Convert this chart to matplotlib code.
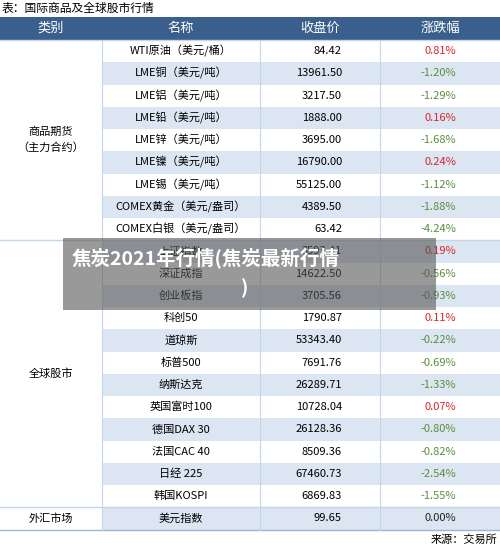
import matplotlib.pyplot as plt
from matplotlib.patches import Rectangle

plt.rcParams['font.family'] = ['Noto Sans CJK SC', 'DejaVu Sans']

headers = ["类别", "名称", "收盘价", "涨跌幅"]
groups = [("商品期货\n（主力合约）", 9), ("全球股市", 12), ("外汇市场", 1)]
names = ["WTI原油（美元/桶）", "LME铜（美元/吨）", "LME铝（美元/吨）", "LME铅（美元/吨）",
         "LME锌（美元/吨）", "LME镍（美元/吨）", "LME锡（美元/吨）", "COMEX黄金（美元/盎司）",
         "COMEX白银（美元/盎司）", "上证指数", "深证成指", "创业板指", "科创50", "道琼斯",
         "标普500", "纳斯达克", "英国富时100", "德国DAX 30", "法国CAC 40", "日经 225",
         "韩国KOSPI", "美元指数"]
prices = ["84.42", "13961.50", "3217.50", "1888.00", "3695.00", "16790.00", "55125.00",
          "4389.50", "63.42", "3593.41", "14622.50", "3705.56", "1790.87", "53343.40",
          "7691.76", "26289.71", "10728.04", "26128.36", "8509.36", "67460.73", "6869.83", "99.65"]
changes = [0.81, -1.20, -1.29, 0.16, -1.68, 0.24, -1.12, -1.88, -4.24, 0.19, -0.56, -0.93,
           0.11, -0.22, -0.69, -1.33, 0.07, -0.80, -0.82, -2.54, -1.55, 0.00]

W, H = 500, 548
fig = plt.figure(figsize=(5, 5.48), dpi=100)
ax = fig.add_axes([0, 0, 1, 1])
ax.set_xlim(0, W)
ax.set_ylim(H, 0)
ax.axis("off")

cols = [0, 102, 260, 380, 500]
top, rh = 40, 22.25
hdr_col = "#3b5f8c"
shade = "#dce6f2"
line_col = "#c5d5e8"

ax.text(2, 8, "表：国际商品及全球股市行情", fontsize=8.5, va="center", ha="left")
ax.add_patch(Rectangle((0, 17), W, top - 17, color=hdr_col, lw=0))
for i, h in enumerate(headers):
    ax.text((cols[i] + cols[i + 1]) / 2, 28.5, h, color="white", fontsize=9.5,
            ha="center", va="center")

for r, (nm, pr, ch) in enumerate(zip(names, prices, changes)):
    y0 = top + r * rh
    yc = y0 + rh / 2
    if r % 2 == 1:
        ax.add_patch(Rectangle((cols[1], y0), W - cols[1], rh, color=shade, lw=0))
    ax.text((cols[1] + cols[2]) / 2, yc, nm, fontsize=8, ha="center", va="center")
    ax.text(342, yc, pr, fontsize=8, ha="right", va="center")
    c = "#d7262b" if ch > 0 else ("#5a8e3a" if ch < 0 else "#222222")
    ax.text(456, yc, f"{ch:.2f}%", fontsize=8, ha="right", va="center", color=c)

r0 = 0
for label, n in groups:
    y0 = top + r0 * rh
    ax.text(51, y0 + n * rh / 2, label, fontsize=8, ha="center", va="center",
            linespacing=1.6)
    ax.plot([0, W], [y0, y0], color=line_col, lw=1)
    r0 += n
yend = top + r0 * rh
ax.plot([0, W], [yend, yend], color="#9fb6d3", lw=1)
for x in cols[1:-1]:
    ax.plot([x, x], [top, yend], color=line_col, lw=0.8)

ax.text(497, 540, "来源：交易所", fontsize=8, ha="right", va="center")

# watermark overlay
ax.add_patch(Rectangle((63, 238), 373, 72, color="#555555", alpha=0.6, lw=0, zorder=5))
ax.text(72, 258, "焦炭2021年行情(焦炭最新行情", fontsize=14, fontweight="bold",
        color="white", ha="left", va="center", zorder=6)
ax.text(245, 288, ")", fontsize=14, fontweight="bold", color="white",
        ha="center", va="center", zorder=6)

fig.savefig("out.png", dpi=100)
